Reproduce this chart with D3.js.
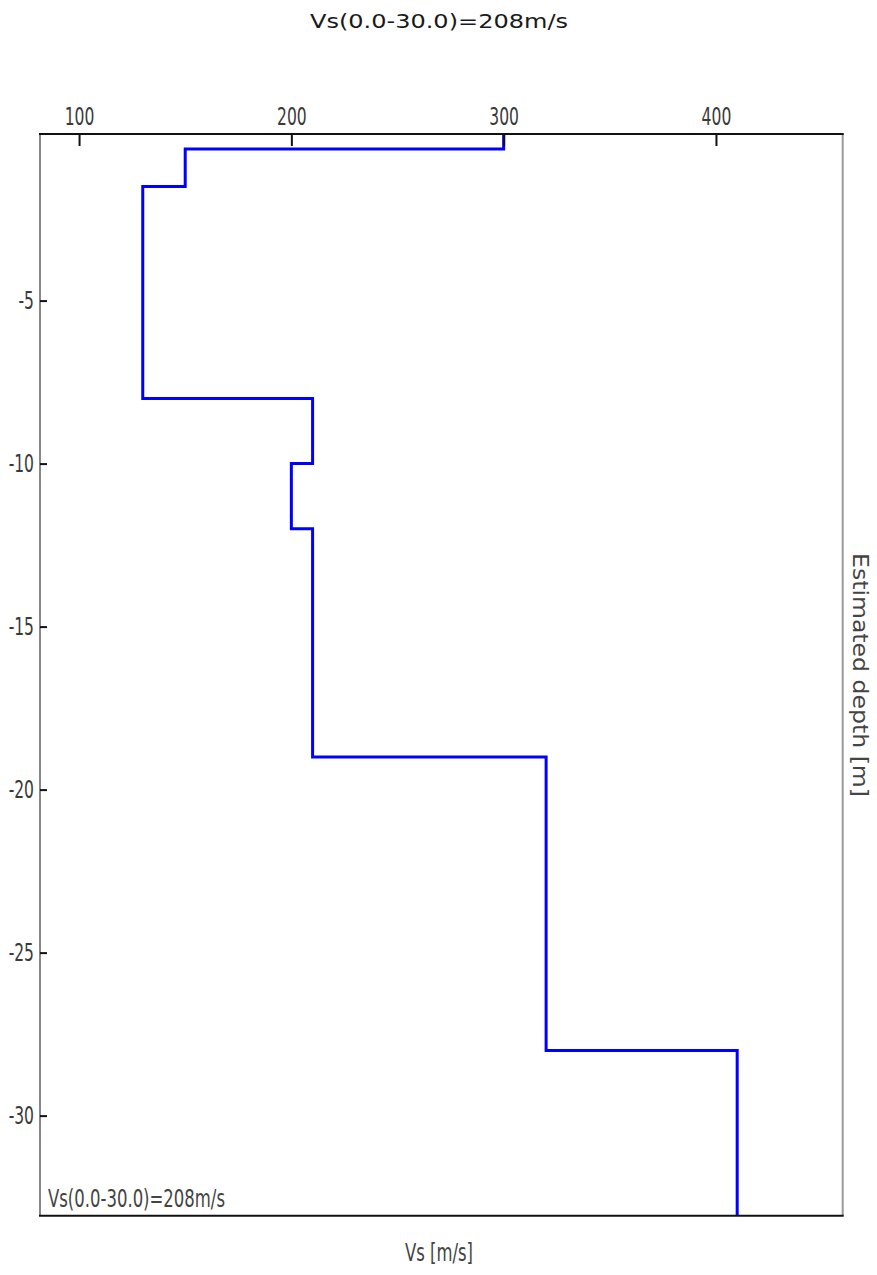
<!DOCTYPE html>
<html>
<head>
<meta charset="utf-8">
<script src="https://cdn.jsdelivr.net/npm/d3@7"></script>
<style>
    body { margin: 0; background: #fff; }
    svg { display: block; }
</style>
</head>
<body>
<div id="plot"></div>
<script>
// Layer shear-wave velocities and the depth of each layer bottom (m, negative downwards).
var layer_vs = [300, 150, 130, 210, 200, 210, 320, 410];
var layer_bottom = [-0.35, -1.5, -8, -10, -12, -19, -28, -33.07];
var x_ticks = [100, 200, 300, 400];
var y_ticks = [-5, -10, -15, -20, -25, -30];
var title_text = "Vs(0.0-30.0)=208m/s";

var width = 877, height = 1275;
var left = 40, right = 842.7, top_ = 134, bottom = 1215.7;
var narrow = "'Liberation Sans Narrow', 'DejaVu Sans Condensed', 'Arial Narrow', sans-serif";

var svg = d3.select("div#plot").append("svg")
    .attr("width", width)
    .attr("height", height)
    .attr("viewBox", "0 0 " + width + " " + height);

var x_scale = d3.scaleLinear().domain([81.6, 459.7]).range([left, right]);
var y_scale = d3.scaleLinear().domain([-33.07, 0.11]).range([bottom, top_]);

// Building the step profile: each layer is a vertical segment from its top to its bottom.
var points = [];
layer_vs.forEach(function(v, i) {
    var top_depth = i == 0 ? y_scale.domain()[1] : layer_bottom[i - 1];
    points.push([v, top_depth]);
    points.push([v, layer_bottom[i]]);
});

var line = d3.line()
    .x(d => x_scale(d[0]))
    .y(d => y_scale(d[1]));

svg.append("path")
    .datum(points)
    .attr("d", line)
    .attr("fill", "none")
    .attr("stroke", "#0000ff")
    .attr("stroke-width", 3)
    .attr("stroke-linejoin", "miter");

// Frame: grey sides, black top and bottom.
svg.append("line").attr("x1", left).attr("x2", left).attr("y1", top_).attr("y2", bottom)
    .attr("stroke", "#888").attr("stroke-width", 2);
svg.append("line").attr("x1", right).attr("x2", right).attr("y1", top_).attr("y2", bottom)
    .attr("stroke", "#999").attr("stroke-width", 2);

// Top axis (Vs).
var g_x_axis = svg.append("g")
    .attr("transform", "translate(0," + top_ + ")")
    .call(d3.axisTop(x_scale).tickValues(x_ticks).tickFormat(d => String(d))
        .tickSizeInner(-12).tickSizeOuter(0).tickPadding(9));

// Left axis (depth), plain hyphen as minus like the original.
var g_y_axis = svg.append("g")
    .attr("transform", "translate(" + left + ",0)")
    .call(d3.axisLeft(y_scale).tickValues(y_ticks).tickFormat(d => String(d))
        .tickSizeInner(-7).tickSizeOuter(0).tickPadding(6));

[g_x_axis, g_y_axis].forEach(function(g) {
    g.select(".domain").remove();
    g.selectAll(".tick line").attr("stroke", "#111").attr("stroke-width", 2);
    g.selectAll(".tick text")
        .attr("fill", "#3a3a3a")
        .style("font-family", narrow)
        .style("font-size", "24px")
        .attr("transform", "scale(0.72,1)");
});
g_y_axis.selectAll(".tick text").attr("x", -6 / 0.72);

svg.append("line").attr("x1", left - 1).attr("x2", right + 1).attr("y1", top_).attr("y2", top_)
    .attr("stroke", "#111").attr("stroke-width", 2);
svg.append("line").attr("x1", left - 1).attr("x2", right + 1).attr("y1", bottom).attr("y2", bottom)
    .attr("stroke", "#111").attr("stroke-width", 2);

// Texts.
svg.append("text")
    .attr("x", 439).attr("y", 28)
    .attr("text-anchor", "middle")
    .attr("textLength", 258).attr("lengthAdjust", "spacingAndGlyphs")
    .attr("fill", "#1a1a1a")
    .style("font-family", "'DejaVu Sans', Verdana, sans-serif")
    .style("font-size", "20px")
    .text(title_text);

svg.append("text")
    .attr("x", 48).attr("y", 1207)
    .attr("textLength", 177).attr("lengthAdjust", "spacingAndGlyphs")
    .attr("fill", "#444")
    .style("font-family", narrow)
    .style("font-size", "24px")
    .text(title_text);

svg.append("text")
    .attr("x", 439).attr("y", 1261)
    .attr("text-anchor", "middle")
    .attr("textLength", 68).attr("lengthAdjust", "spacingAndGlyphs")
    .attr("fill", "#444")
    .style("font-family", narrow)
    .style("font-size", "24px")
    .text("Vs [m/s]");

svg.append("text")
    .attr("transform", "translate(853,675) rotate(90)")
    .attr("text-anchor", "middle")
    .attr("textLength", 244).attr("lengthAdjust", "spacingAndGlyphs")
    .attr("fill", "#444")
    .style("font-family", narrow)
    .style("font-size", "22px")
    .text("Estimated depth [m]");
</script>
</body>
</html>
